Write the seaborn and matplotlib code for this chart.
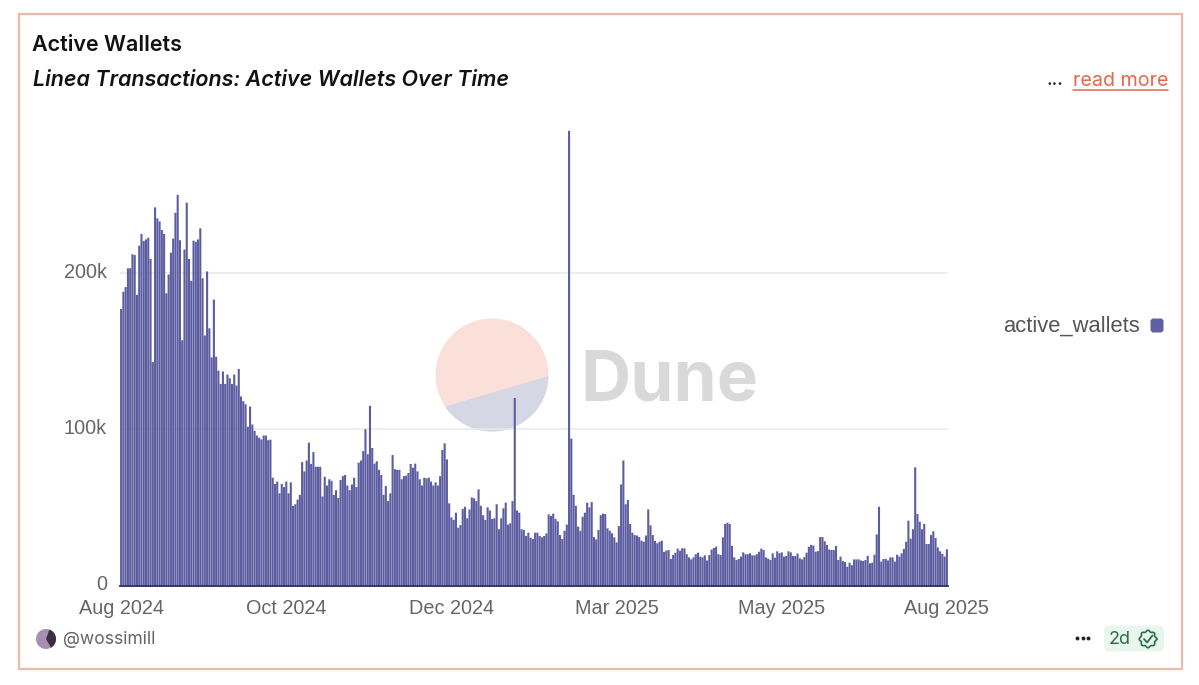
import numpy as np
import pandas as pd
import matplotlib
matplotlib.use("Agg")
import matplotlib.pyplot as plt
from matplotlib.patches import Rectangle, Circle, FancyBboxPatch, Wedge
import matplotlib.transforms as mtrans
import seaborn as sns

# Daily active wallets, thousands
part_a = [177,188,191,203,203,212,211.5,186,217.5,225,220.5,221.5,222.6,209,143,242,235,233,227.5,225,
          187,199,213,222,238.6,250,221,157,215,245,209,195,220.7,220,221.5,228.6,196.6,160,201,164.6,
          146,183,146.4,137.5,129,137,129,135,132.6,129,135,128,138.6,121,118,116,101.6,114.5,103,99,
          96,94.6,93.5,96,96,93,93.3,69,65,66.5,59,65,63,66.5,59,66,51,52,55,58,79,73,80,91.4]
part_b = [77.8,85.4,76,76,76,57,69.6,64,68,67,58,61,56,67.5,70,70.7,64,61,64.7,69,63,78.6,80,86,100,84,115,88,
          78,79.5,74,70.7,58,63.7,54,59,83.5,74.5,74,74,68,70,70.3,72,77.8,75.4,78,73,68,64,69,68.6,69,66.5,
          64,66,64,70,86.7,91,80.7,52.6,43.6,42,46.6,37,38.7,49,50.4,43,48.7,56.4,55.8,54,61.5,51,45,42,50,48,
          42.6,43,52,36,43,49.4,53,39]
part_c = [39.8,54,120,48,46.6,36,35.5,31.7,33.8,30.6,29.8,33.8,33.8,31.7,30.8,31.7,33.4,45.5,44.5,46,42.6,41,
          32.3,29.8,35,39,291,94,58,51,37.7,35,44,46.6,53,50,53.4,31,29.5,35.5,45,46,45.7,36.6,35,33.4,30.8,27.6,
          38,64.7,80,52,54.7,39.4,33.8,32.3,32,31,28.7,28,32,48.7,38.5,32.3,28.5,27,28,28.7,21.5,22.3,22.7,17,
          19.5,21,23.6,22.3,23.8,23.8,20,18,16.7,18,20,21,18.5,18,19.3,16,19.5,23,24,24.9,20,19.5,30.8,39.4,40.2]
part_d = [39.4,25.3,18,16.3,17,18.5,21.2,20,20,20.6,19.3,19.3,20,21.6,23.6,22.7,18,17.2,16.3,20.6,17.8,21.9,20.6,
          21.2,18.5,18.9,21.9,21.2,18.9,18.9,20.4,17.4,16.7,18.2,21,24.8,26,25.5,21.6,22,31,31,28.3,26,23,22.7,22.7,
          25.3,16.3,18.5,15.7,15,12,14.6,13,16.7,16.7,16.7,16,15.7,16.3,19,14.2,14.6,19.7,32.7,50.4,15.3,17,17,16,18,
          18,15.3,19.7,18.5,20.6,23.4,28,41.5,30,36,75.6,45.8,40.8,36,39.4,26.6,26.6,32.3,34.7,30.4,24.4,21.9,20.2,18.5,23.2]
wallets_k = part_a + part_b + part_c + part_d
tick_labels = ["Aug 2024", "Oct 2024", "Dec 2024", "Mar 2025", "May 2025", "Aug 2025"]
y_ticks = [0, 100, 200]
y_tick_labels = ["0", "100k", "200k"]

W, H = 1199, 685
n = len(wallets_k)
df = pd.DataFrame({"day": pd.date_range("2024-08-01", periods=n).strftime("%Y-%m-%d"),
                   "active_wallets": wallets_k})

sns.set_theme(style="white")
plt.rcParams["font.family"] = ["Liberation Sans", "DejaVu Sans"]
fig = plt.figure(figsize=(W / 100, H / 100), dpi=100, facecolor="#ffffff")

# Page layer in pixel coordinates
bg = fig.add_axes([0, 0, 1, 1], zorder=0)
bg.set_xlim(0, W); bg.set_ylim(H, 0); bg.axis("off")
bg.add_patch(Rectangle((19, 14), 1163, 655, fc="white", ec="#e9bda9", lw=1.6))
bg.text(32, 44.5, "Active Wallets", family="Inter", fontsize=15.5, weight="semibold", color="#111111", va="center")
bg.text(33, 79.5, "Linea Transactions: Active Wallets Over Time", family="Inter", fontsize=15.47, weight="semibold",
        style="italic", color="#111111", va="center")
bg.text(1047, 80, "...", family="Inter", fontsize=14, color="#222222", va="center")
bg.text(1073, 80.5, "read more", family="Inter", fontsize=14.2, color="#e2694b", va="center")
bg.plot([1073, 1168], [89.5, 89.5], color="#e2694b", lw=1.1)

# Watermark
cx, cy, r = 492, 375, 56.5
bg.add_patch(Circle((cx, cy), r, fc="#fbe0d9", lw=0))
ang = np.deg2rad(np.linspace(1, 146, 80))
bg.fill(cx + r * np.cos(ang), cy + r * np.sin(ang), fc="#d6d7e5", lw=0)
bg.text(580, 382, "Dune", family="Inter", fontsize=50, weight="bold", color="#d9d9d9", va="center")

# Legend
bg.text(1140, 326, "active_wallets", fontsize=15.8, color="#555555", va="center", ha="right")
bg.add_patch(FancyBboxPatch((1152, 320), 10, 11, boxstyle="round,pad=1.5,rounding_size=3", fc="#5f5fa3", lw=0))

# Footer
bg.add_patch(Circle((46, 639), 10, fc="#a78fb3", lw=0))
bg.add_patch(Wedge((46, 639), 10, -70, 60, fc="#3a3040", lw=0))
bg.text(63, 639.5, "@wossimill", family="Inter", fontsize=12.6, color="#666666", va="center")
bg.plot([1077, 1082.5, 1088], [638, 638, 638], ls="none", marker="o", ms=2.8, color="#222222", mew=0)
bg.add_patch(FancyBboxPatch((1107, 628.5), 54, 20, boxstyle="round,pad=3,rounding_size=5", fc="#e8f6ee", lw=0))
bg.text(1109, 639, "2d", family="Inter", fontsize=13, color="#2f6b4f", va="center")
phi = np.linspace(0, 2 * np.pi, 200)
rr = 8 + 0.8 * np.cos(8 * phi)
bg.plot(1148 + rr * np.cos(phi), 639 + rr * np.sin(phi), color="#2f6b4f", lw=1.2)
bg.plot([1144, 1147, 1152.5], [639, 642.5, 635.5], color="#2f6b4f", lw=1.3)

# Chart
x0, x1, y0, ytop = 120, 948, 585.5, 125
ax = fig.add_axes([x0 / W, 1 - y0 / H, (x1 - x0) / W, (y0 - ytop) / H], zorder=1)
ax.patch.set_alpha(0)
ax.yaxis.grid(True, color="#e9e9ee", lw=1.1)
ax.xaxis.grid(False)
ax.set_axisbelow(True)
sns.barplot(data=df, x="day", y="active_wallets", color="#5c5ca1", saturation=1, width=0.92,
            linewidth=0, ax=ax)
for p in ax.patches:
    p.set_snap(False)
    p.set_antialiased(True)
ax.set_xlim(-0.5, n - 0.5)
ax.set_ylim(0, (y0 - ytop) * 0.64)
ax.set_xlabel(""); ax.set_ylabel("")
ax.set_xticks(np.linspace(0, n - 1, len(tick_labels)))
ax.set_xticklabels(tick_labels, fontsize=14.3, color="#666666")
ax.set_yticks(y_ticks)
ax.set_yticklabels(y_tick_labels, fontsize=14.3, color="#666666")
ax.tick_params(axis="both", length=0)
ax.tick_params(axis="x", pad=10)
ax.tick_params(axis="y", pad=9.5)
off = mtrans.ScaledTranslation(0, 2 / 72 * 0.72 * 1.4, fig.dpi_scale_trans)
for lab in ax.get_yticklabels():
    lab.set_transform(lab.get_transform() + off)
for s in ["top", "left", "right"]:
    ax.spines[s].set_visible(False)
ax.spines["bottom"].set_color("#2a2a5e")
ax.spines["bottom"].set_linewidth(1.3)

fig.savefig("out.png", dpi=100, facecolor=fig.get_facecolor())
